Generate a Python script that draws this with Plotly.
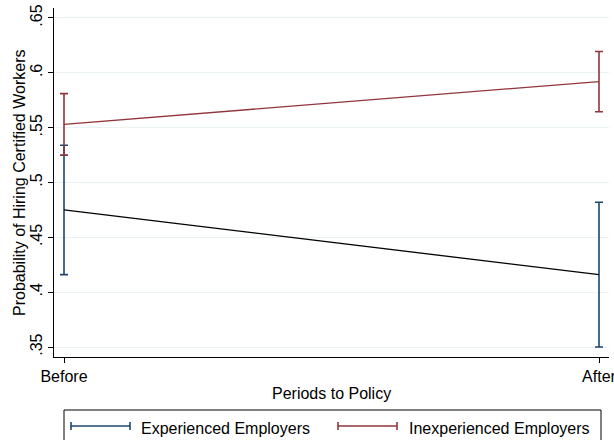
import plotly.graph_objects as go

# Predicted probabilities with 95% confidence intervals
periods = ["Before", "After"]
x_pos = [0, 1]
exp_mean = [0.475, 0.416]
exp_err = [0.059, 0.066]
inexp_mean = [0.553, 0.592]
inexp_err = [0.028, 0.0275]

y_ticks = [0.35, 0.4, 0.45, 0.5, 0.55, 0.6, 0.65]
y_ticktext = [".35", ".4", ".45", ".5", ".55", ".6", ".65"]

NAVY = "#1a476f"
MAROON = "#90353b"
FONT = "Liberation Sans, Arial, sans-serif"
FS = 16

W, H = 614, 440
L, R, T, B = 54, 5, 8, 83
pw, ph = W - L - R, H - T - B


def px_x(px):
    return (px - L) / pw


def px_y(py):
    return (H - B - py) / ph


fig = go.Figure()

# Confidence intervals
fig.add_trace(go.Scatter(
    x=x_pos, y=exp_mean, mode="markers",
    marker=dict(size=1, opacity=0),
    error_y=dict(type="data", array=exp_err, color=NAVY, thickness=1.6, width=4),
    showlegend=False, hoverinfo="skip"))
fig.add_trace(go.Scatter(
    x=x_pos, y=inexp_mean, mode="markers",
    marker=dict(size=1, opacity=0),
    error_y=dict(type="data", array=inexp_err, color=MAROON, thickness=1.6, width=4),
    showlegend=False, hoverinfo="skip"))

# Connecting lines
fig.add_trace(go.Scatter(x=x_pos, y=exp_mean, mode="lines",
                         line=dict(color="black", width=1.3), showlegend=False))
fig.add_trace(go.Scatter(x=x_pos, y=inexp_mean, mode="lines",
                         line=dict(color=MAROON, width=1.3), showlegend=False))

fig.update_xaxes(
    range=[-0.0187, 1.0187], tickvals=x_pos, ticktext=periods,
    showgrid=False, zeroline=False, showline=True, linecolor="black", linewidth=1,
    ticks="outside", ticklen=5, tickcolor="black", ticklabeloverflow="allow",
    tickfont=dict(family=FONT, size=FS, color="black"), automargin=False)
fig.update_yaxes(
    range=[0.3409, 0.6591], tickvals=y_ticks, ticktext=y_ticktext, tickangle=-90,
    showgrid=True, gridcolor="#eaf2f3", gridwidth=1, zeroline=False,
    showline=True, linecolor="black", linewidth=1,
    ticks="outside", ticklen=5, tickcolor="black", ticklabeloverflow="allow",
    tickfont=dict(family=FONT, size=FS, color="black"), automargin=False)

annotations = [
    dict(text="Probability of Hiring Certified Workers", x=px_x(19), y=px_y(183),
         xref="paper", yref="paper", textangle=-90, showarrow=False,
         font=dict(family=FONT, size=FS, color="black"), xanchor="center", yanchor="middle"),
    dict(text="Periods to Policy", x=px_x(331), y=px_y(393),
         xref="paper", yref="paper", showarrow=False,
         font=dict(family=FONT, size=FS, color="black"), xanchor="center", yanchor="middle"),
    dict(text="Experienced Employers", x=px_x(139), y=px_y(428),
         xref="paper", yref="paper", showarrow=False,
         font=dict(family=FONT, size=FS, color="black"), xanchor="left", yanchor="middle"),
    dict(text="Inexperienced Employers", x=px_x(407), y=px_y(428),
         xref="paper", yref="paper", showarrow=False,
         font=dict(family=FONT, size=FS, color="black"), xanchor="left", yanchor="middle"),
]

shapes = [
    # legend frame (runs past the bottom edge of the page)
    dict(type="rect", xref="paper", yref="paper",
         x0=px_x(64), x1=px_x(601), y0=px_y(446), y1=px_y(410),
         line=dict(color="black", width=1), fillcolor="white"),
]
# legend keys: line with end caps
for (x0, x1, c) in [(71, 130, NAVY), (338, 397, MAROON)]:
    shapes.append(dict(type="line", xref="paper", yref="paper",
                       x0=px_x(x0), x1=px_x(x1), y0=px_y(426), y1=px_y(426),
                       line=dict(color=c, width=1.6)))
    for xc in (x0, x1):
        shapes.append(dict(type="line", xref="paper", yref="paper",
                           x0=px_x(xc), x1=px_x(xc), y0=px_y(422), y1=px_y(430),
                           line=dict(color=c, width=1.6)))

fig.update_layout(
    width=W, height=H, margin=dict(l=L, r=R, t=T, b=B, autoexpand=False),
    plot_bgcolor="white", paper_bgcolor="white",
    annotations=annotations, shapes=shapes, showlegend=False)

fig.write_html("out.html")
